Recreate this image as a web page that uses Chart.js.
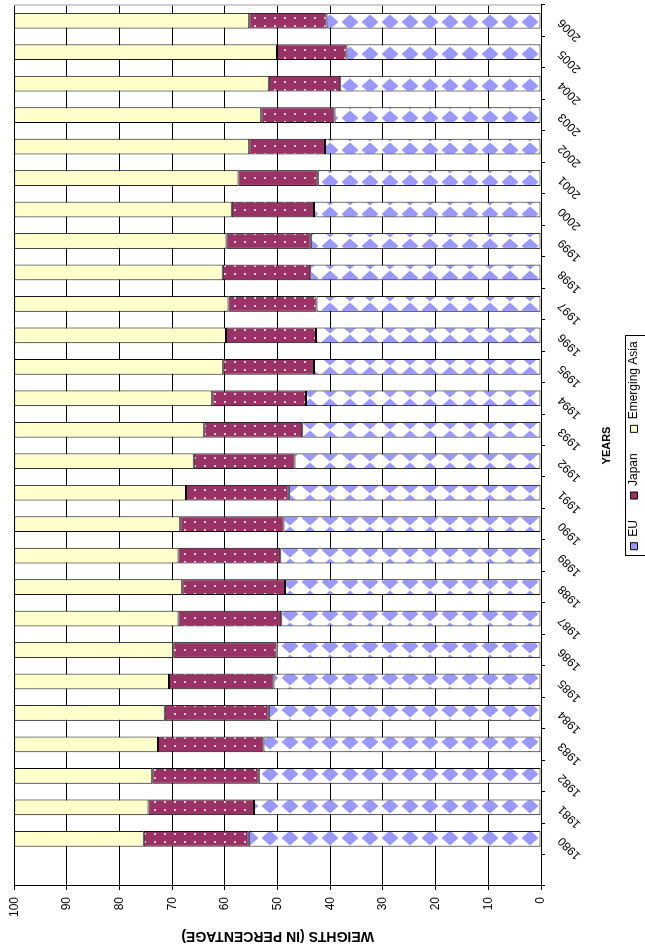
<!DOCTYPE html>
<html>
<head>
<meta charset="utf-8">
<script src="https://cdn.jsdelivr.net/npm/chart.js@4"></script>
<style>
  html, body { margin: 0; padding: 0; background: #fff; overflow: hidden; }
  /* the chart is drawn upright and then turned a quarter left, like the scan */
  #wrap { position: absolute; left: 0; top: 0; width: 951px; height: 645px;
          transform-origin: 0 0; transform: translateY(951px) rotate(-90deg); }
</style>
</head>
<body>
<div id="wrap"><canvas id="weightsChart" width="951" height="645"></canvas></div>
<script>
// first slot is the empty category the sheet leaves before 1980
const years = ['', '1980', '1981', '1982', '1983', '1984', '1985', '1986', '1987', '1988', '1989',
    '1990', '1991', '1992', '1993', '1994', '1995', '1996', '1997', '1998', '1999',
    '2000', '2001', '2002', '2003', '2004', '2005', '2006'];
const eu = [null, 55.5, 54.5, 53.6, 52.7, 51.7, 50.8, 50.2, 49.3, 48.6, 49.5,
    48.9, 47.9, 46.8, 45.3, 44.6, 43.1, 42.7, 42.6, 43.8, 43.7,
    43.1, 42.4, 41.0, 39.2, 38.1, 36.9, 40.7];
const japan = [null, 19.9, 20.0, 20.2, 20.0, 19.7, 19.8, 19.6, 19.5, 19.5, 19.3,
    19.6, 19.5, 19.1, 18.6, 17.8, 17.2, 17.1, 16.7, 16.6, 16.0,
    15.6, 15.0, 14.4, 13.9, 13.6, 13.2, 14.7];
const emergingAsia = [null, 24.6, 25.5, 26.2, 27.3, 28.6, 29.4, 30.2, 31.2, 31.9, 31.2,
    31.5, 32.6, 34.1, 36.1, 37.6, 39.7, 40.2, 40.7, 39.6, 40.3,
    41.3, 42.6, 44.6, 46.9, 48.3, 49.9, 44.6];
const valueTicks = [0, 10, 20, 30, 40, 50, 60, 70, 80, 90, 100];

Chart.defaults.font.family = '"Liberation Sans", Arial, sans-serif';
Chart.defaults.color = '#000';

const ctx = document.getElementById('weightsChart').getContext('2d');

function tile(w, h, draw, dx, dy) {
    const c = document.createElement('canvas');
    c.width = w; c.height = h;
    draw(c.getContext('2d'));
    const p = ctx.createPattern(c, 'repeat');
    p.setTransform(new DOMMatrix([1, 0, 0, 1, dx, dy]));
    return p;
}

// blue diamonds on white
const euFill = tile(16, 20, g => {
    g.fillStyle = '#fff';
    g.fillRect(0, 0, 16, 20);
    g.fillStyle = '#9999ff';
    g.beginPath();
    g.moveTo(0.5, 10); g.lineTo(8, 1.5); g.lineTo(15.5, 10); g.lineTo(8, 18.5);
    g.closePath();
    g.fill();
}, 9, 0);

// maroon with small light dots
const japanFill = tile(8, 10, g => {
    g.fillStyle = '#993366';
    g.fillRect(0, 0, 8, 10);
    g.fillStyle = '#ecc8da';
    g.fillRect(3, 4, 2, 2);
}, 1, 0);

const legendColors = ['#9999ff', '#993366', '#ffffcc'];

const legendFrame = {
    id: 'legendFrame',
    afterDraw(chart) {
        const c = chart.ctx;
        const area = chart.chartArea;
        c.save();
        // right edge of the plot area
        c.strokeStyle = '#c0c0c0';
        c.lineWidth = 1.5;
        c.beginPath();
        c.moveTo(area.right, area.top);
        c.lineTo(area.right, area.bottom);
        c.stroke();
        // box round the legend
        const boxes = chart.legend.legendHitBoxes;
        if (boxes && boxes.length) {
            const left = Math.min(...boxes.map(b => b.left)) - 6;
            const right = Math.max(...boxes.map(b => b.left + b.width)) + 6;
            const top = boxes[0].top - 3;
            const bottom = boxes[0].top + boxes[0].height + 5;
            c.strokeStyle = '#000';
            c.lineWidth = 1;
            c.strokeRect(Math.round(left) + 0.5, Math.round(top) + 0.5,
                Math.round(right - left), Math.round(bottom - top));
        }
        c.restore();
    }
};

new Chart(ctx, {
    type: 'bar',
    data: {
        labels: years,
        datasets: [{
            label: 'EU',
            data: eu,
            backgroundColor: euFill,
            borderColor: '#000',
            borderWidth: 1,
            borderSkipped: false
        }, {
            label: 'Japan',
            data: japan,
            backgroundColor: japanFill,
            borderColor: '#000',
            borderWidth: 1,
            borderSkipped: false
        }, {
            label: 'Emerging Asia',
            data: emergingAsia,
            backgroundColor: '#ffffcc',
            borderColor: '#000',
            borderWidth: 1,
            borderSkipped: false
        }]
    },
    options: {
        responsive: false,
        animation: false,
        devicePixelRatio: 1,
        categoryPercentage: 1,
        barPercentage: 0.5,
        layout: { padding: { top: 14, right: 5, left: 0, bottom: -5 } },
        plugins: {
            tooltip: { enabled: false },
            legend: {
                position: 'bottom',
                fullSize: false,
                labels: {
                    font: { size: 12 },
                    boxWidth: 7,
                    boxHeight: 7,
                    padding: 21,
                    generateLabels: chart => chart.data.datasets.map((ds, i) => ({
                        text: ds.label,
                        fillStyle: legendColors[i],
                        strokeStyle: '#000',
                        lineWidth: 1,
                        hidden: false,
                        datasetIndex: i
                    }))
                }
            }
        },
        scales: {
            x: {
                stacked: true,
                grid: { offset: true, drawOnChartArea: false, color: '#000', tickLength: 4 },
                border: { color: '#000' },
                ticks: { autoSkip: false, minRotation: 45, maxRotation: 45, font: { size: 12 }, padding: 10 },
                title: { display: true, text: 'YEARS', font: { size: 11, weight: 'bold', lineHeight: 1 }, padding: { top: 0, bottom: -5 } },
                afterFit: s => { s.height = 66; }
            },
            y: {
                stacked: true,
                min: 0,
                max: 100,
                afterBuildTicks: s => { s.ticks = valueTicks.map(v => ({ value: v })); },
                grid: { color: '#000', lineWidth: 1, tickLength: 4 },
                border: { color: '#000' },
                ticks: { font: { size: 12 }, padding: 7 },
                title: { display: true, text: 'WEIGHTS (IN PERCENTAGE)', font: { size: 14, weight: 'bold' }, padding: { top: 7, bottom: 0 } },
                afterFit: s => { s.width = 65; }
            }
        }
    },
    plugins: [legendFrame]
});
</script>
</body>
</html>
